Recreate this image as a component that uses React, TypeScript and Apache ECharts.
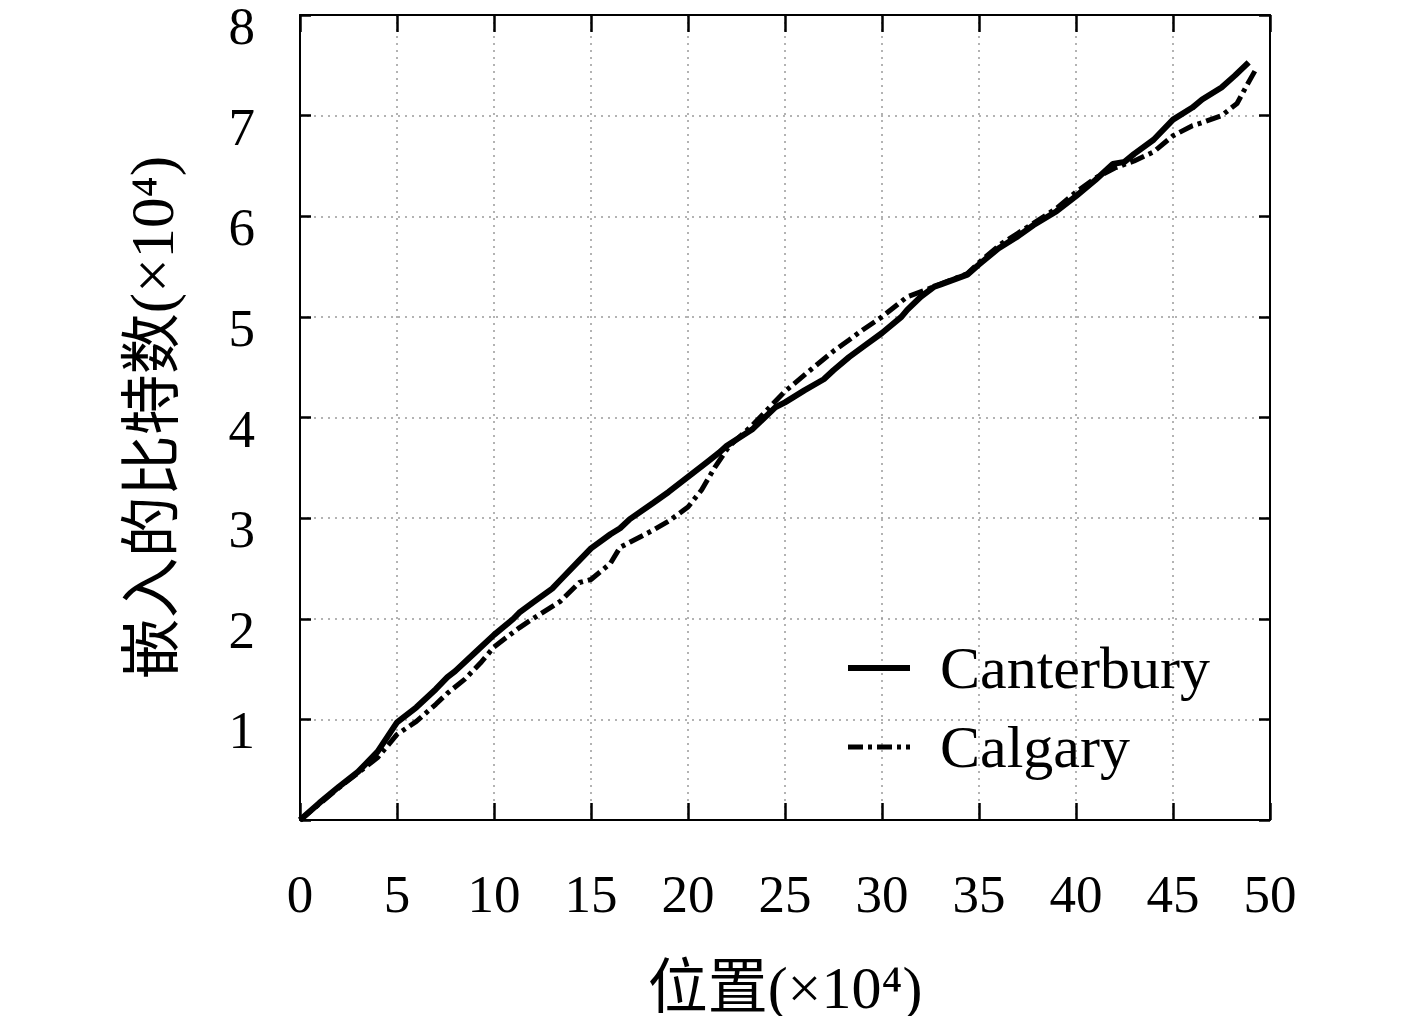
import React, { useEffect, useRef } from "react";
import * as echarts from "echarts";

const xTicks = [0, 5, 10, 15, 20, 25, 30, 35, 40, 45, 50];
const yTicks = [0, 1, 2, 3, 4, 5, 6, 7, 8];

const canterburyX = [0, 1, 2, 3, 4, 5, 6, 7, 7.6, 8, 9, 10, 11, 11.3, 12, 13, 13.4, 14.3, 15, 16, 16.5, 17, 18.2, 19, 20, 21, 21.6, 22, 23.3, 24.5, 25, 26, 27, 27.5, 28.3, 29, 30, 31, 31.3, 32, 32.7, 33, 34.4, 35, 36, 37, 37.8, 39, 40, 41, 41.9, 42.5, 43, 44, 45, 46, 46.5, 47.5, 48.2, 48.9];
const canterburyY = [0, 0.17, 0.33, 0.48, 0.68, 0.97, 1.12, 1.3, 1.42, 1.48, 1.66, 1.84, 2.0, 2.06, 2.16, 2.3, 2.38, 2.56, 2.7, 2.84, 2.9, 2.99, 3.15, 3.26, 3.41, 3.56, 3.65, 3.72, 3.88, 4.1, 4.15, 4.27, 4.38, 4.47, 4.6, 4.7, 4.84, 5.0, 5.07, 5.2, 5.3, 5.32, 5.42, 5.52, 5.68, 5.8, 5.91, 6.05, 6.2, 6.36, 6.52, 6.54, 6.62, 6.76, 6.96, 7.08, 7.16, 7.28, 7.4, 7.53];

const calgaryX = [0, 1, 2, 3, 4, 5, 6, 7, 7.6, 8.5, 9.3, 10, 11.3, 12, 13.4, 14.4, 15, 16, 16.5, 17, 18.2, 19, 20, 20.7, 21.4, 22.1, 23.3, 24, 25, 26.3, 27.5, 28.3, 29, 30, 31.3, 32.7, 34.4, 35, 36.1, 37.8, 39, 40, 41, 42, 43, 44, 45, 46, 46.5, 47.5, 48.3, 48.8, 49.3];
const calgaryY = [0, 0.16, 0.32, 0.47, 0.62, 0.85, 0.98, 1.15, 1.26, 1.4, 1.56, 1.72, 1.91, 2.0, 2.17, 2.36, 2.39, 2.55, 2.71, 2.76, 2.88, 2.97, 3.11, 3.28, 3.51, 3.71, 3.92, 4.06, 4.26, 4.47, 4.66, 4.77, 4.87, 5.0, 5.2, 5.3, 5.43, 5.54, 5.72, 5.93, 6.08, 6.24, 6.38, 6.48, 6.55, 6.64, 6.8, 6.9, 6.93, 7.0, 7.12, 7.3, 7.47];

const seriesNames = ["Canterbury", "Calgary"];
const xAxisTitle = "位置(×10⁴)";
const yAxisTitle = "嵌入的比特数(×10⁴)";

const FONT = "'Liberation Serif', 'DejaVu Serif', 'Noto Sans CJK SC', serif";

function zip(xs: number[], ys: number[]) {
  return xs.map((x, i) => [x, ys[i]]);
}

export default function App() {
  const ref = useRef<HTMLDivElement>(null);
  useEffect(() => {
    if (!ref.current) return;
    const chart = echarts.init(ref.current, undefined, { renderer: "svg" });
    const xTick = { show: true, inside: true, length: 17, lineStyle: { color: "#000", width: 2.5 } };
    const yTick = { show: true, inside: true, length: 11, lineStyle: { color: "#000", width: 2.5 } };
    const split = { show: true, lineStyle: { color: "#9a9a9a", width: 1.5, type: [2, 5] } };
    const solidStyle = { color: "#000", width: 6, type: "solid" };
    const dashStyle = { color: "#000", width: 5, type: [15, 5, 4, 5] };
    chart.setOption({
      animation: false,
      backgroundColor: "#ffffff",
      grid: { left: 300, right: 147, top: 15, bottom: 196, containLabel: false, outerBoundsMode: "none" },
      legend: {
        orient: "vertical",
        left: 840,
        top: 633,
        itemWidth: 62,
        itemHeight: 20,
        itemGap: 19,
        itemStyle: { opacity: 0 },
        textStyle: { fontFamily: FONT, fontSize: 60, color: "#000", lineHeight: 60, padding: [0, 0, 0, 25] },
        data: [
          { name: seriesNames[0], lineStyle: solidStyle },
          { name: seriesNames[1], lineStyle: dashStyle },
        ],
      },
      xAxis: [
        {
          type: "value",
          min: 0,
          max: 50,
          interval: 5,
          position: "bottom",
          name: xAxisTitle,
          nameLocation: "middle",
          nameGap: 138,
          nameTextStyle: { fontFamily: FONT, fontSize: 60, color: "#000" },
          axisLine: { show: true, onZero: false, lineStyle: { color: "#000", width: 2 } },
          axisTick: xTick,
          axisLabel: { fontFamily: FONT, fontSize: 53, color: "#000", margin: 47 },
          splitLine: split,
        },
        {
          type: "value",
          min: 0,
          max: 50,
          interval: 5,
          position: "top",
          axisLine: { show: true, onZero: false, lineStyle: { color: "#000", width: 2 } },
          axisTick: xTick,
          axisLabel: { show: false },
          splitLine: { show: false },
        },
      ],
      yAxis: [
        {
          type: "value",
          min: 0,
          max: 8,
          interval: 1,
          position: "left",
          name: yAxisTitle,
          nameLocation: "middle",
          nameGap: 117,
          nameRotate: 90,
          nameTextStyle: { fontFamily: FONT, fontSize: 61, color: "#000" },
          axisLine: { show: true, onZero: false, lineStyle: { color: "#000", width: 2 } },
          axisTick: yTick,
          axisLabel: {
            fontFamily: FONT,
            fontSize: 53,
            color: "#000",
            margin: 45,
            verticalAlign: "top",
            lineHeight: 22,
            formatter: (v: number) => (v === 0 ? "" : String(v)),
          },
          splitLine: split,
        },
        {
          type: "value",
          min: 0,
          max: 8,
          interval: 1,
          position: "right",
          axisLine: { show: true, onZero: false, lineStyle: { color: "#000", width: 2 } },
          axisTick: yTick,
          axisLabel: { show: false },
          splitLine: { show: false },
        },
      ],
      series: [
        {
          name: seriesNames[0],
          type: "line",
          xAxisIndex: 0,
          yAxisIndex: 0,
          symbol: "none",
          smooth: false,
          data: zip(canterburyX, canterburyY),
          lineStyle: solidStyle,
          itemStyle: { color: "#000" },
        },
        {
          name: seriesNames[1],
          type: "line",
          xAxisIndex: 0,
          yAxisIndex: 0,
          symbol: "none",
          smooth: false,
          data: zip(calgaryX, calgaryY),
          lineStyle: dashStyle,
          itemStyle: { color: "#000" },
        },
      ],
    });
    return () => chart.dispose();
  }, []);
  return (
    <div
      ref={ref}
      style={{ position: "fixed", left: 0, top: 0, width: 1417, height: 1016, background: "#fff" }}
    />
  );
}
